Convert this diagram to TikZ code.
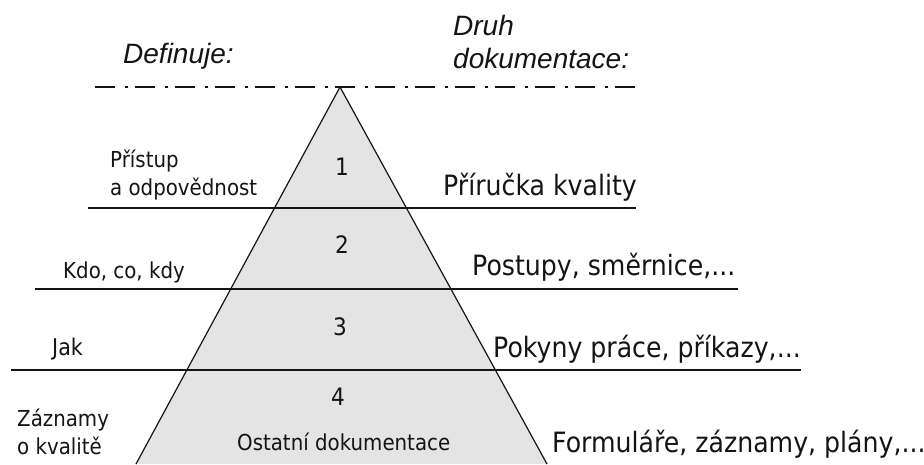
\documentclass[tikz,border=0pt]{standalone}
\usepackage{fontspec}
\setmainfont[FakeStretch=0.9]{DejaVu Sans}
\newfontfamily\headfont{Liberation Sans}
\definecolor{pyrfill}{HTML}{E4E4E4}
\definecolor{ink}{HTML}{141414}
\begin{document}
\begin{tikzpicture}[x=1pt,y=-1pt,
  every node/.style={inner sep=0pt, text=ink},
  level/.style={line width=2pt, draw=ink},
  head/.style={font=\headfont\itshape\fontsize{28}{32}\selectfont, anchor=base west},
  leftlbl/.style={font=\fontsize{22}{28}\selectfont, anchor=base west},
  rightlbl/.style={font=\fontsize{28}{32}\selectfont, anchor=base west},
  num/.style={font=\fontsize{24}{28}\selectfont}]
\useasboundingbox (0,0) rectangle (924,464);
% pyramid
\coordinate (apex) at (340,87);
\coordinate (bl) at (136,464);
\coordinate (br) at (547,464);
\fill[pyrfill] (apex) -- (bl) -- (br) -- cycle;
\draw[line width=1.2pt, draw=ink] (bl) -- (apex) -- (br);
% dash-dot top line
\coordinate (d1) at (95,87);  \coordinate (d2) at (636,87);
\draw[line width=2pt, draw=ink, dash pattern=on 20pt off 10pt on 3pt off 7pt] (d1) -- (d2);
% level separators
\coordinate (a1) at (88,208);  \coordinate (a2) at (636,208);
\coordinate (b1) at (35,289);  \coordinate (b2) at (738,289);
\coordinate (c1) at (11,370);  \coordinate (c2) at (801,370);
\draw[level] (a1) -- (a2);
\draw[level] (b1) -- (b2);
\draw[level] (c1) -- (c2);
% column heads
\node[head] (def) at (123,63) {Definuje:};
\node[head] (druh) at (453,35) {Druh};
\node[head] (dok) at (453,68) {dokumentace:};
% left labels
\node[leftlbl] (l1a) at (110,167) {Přístup};
\node[leftlbl] (l1b) at (110,195) {a odpovědnost};
\node[leftlbl] (l2) at (63,278) {Kdo, co, kdy};
\node[leftlbl, font=\fontsize{23}{28}\selectfont] (l3) at (52,355) {Jak};
\node[leftlbl] (l4a) at (17,426) {Záznamy};
\node[leftlbl] (l4b) at (17,454) {o kvalitě};
% level numbers
\node[num] (n1) at (342,167) {1};
\node[num] (n2) at (342,245) {2};
\node[num] (n3) at (340,327) {3};
\node[num] (n4) at (338,397) {4};
\node[leftlbl] (other) at (237,450) {Ostatní dokumentace};
% right labels
\node[rightlbl] (r1) at (443,195) {Příručka kvality};
\node[rightlbl] (r2) at (472,275) {Postupy, směrnice,...};
\node[rightlbl] (r3) at (493,357) {Pokyny práce, příkazy,...};
\node[rightlbl] (r4) at (552,452) {Formuláře, záznamy, plány,...};
\end{tikzpicture}
\end{document}
